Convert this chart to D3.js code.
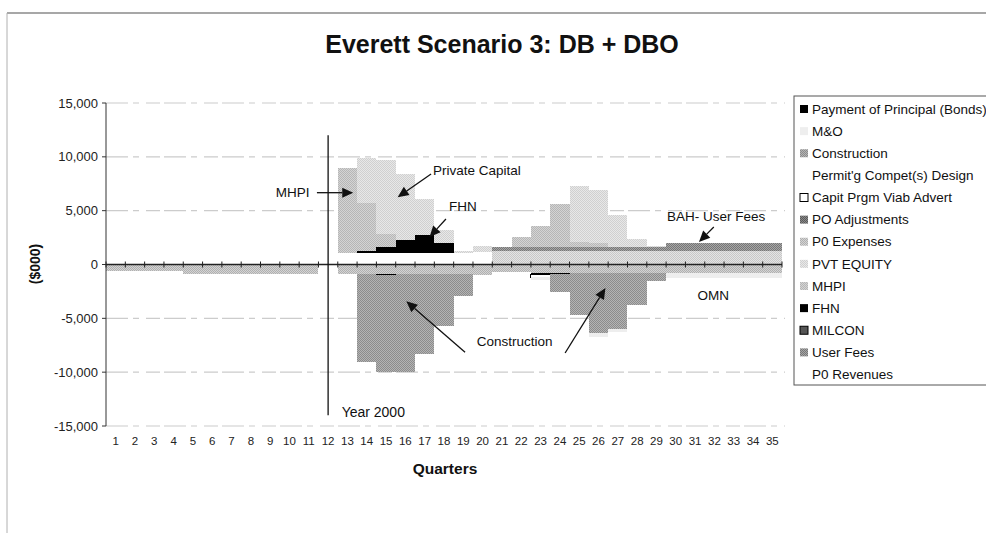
<!DOCTYPE html>
<html>
<head>
<meta charset="utf-8">
<script src="https://cdn.jsdelivr.net/npm/d3@7"></script>
<style>
  html, body { margin: 0; padding: 0; background: #fff; overflow: hidden; }
  svg { display: block; font-family: "Liberation Sans", Arial, Helvetica, sans-serif; }
</style>
</head>
<body>
<svg id="chart" width="986" height="533"></svg>
<script>
// Quarters on the category axis
const quarters = [1,2,3,4,5,6,7,8,9,10,11,12,13,14,15,16,17,18,19,20,21,22,23,24,25,26,27,28,29,30,31,32,33,34,35];

// Value axis ticks ($000)
const yTicks = [15000, 10000, 5000, 0, -5000, -10000, -15000];
const yTickLabels = ["15,000", "10,000", "5,000", "0", "-5,000", "-10,000", "-15,000"];

// Cash-flow series by quarter ($000)
const permitDesign  = [0,0,0,0,0,0,0,0,0,0,0,0,1080,1080,1080,1080,1080,1080,1080,1150,0,0,0,0,0,0,0,0,0,0,0,0,0,0,0];
const p0Revenues    = [0,0,0,0,0,0,0,0,0,0,0,0,0,0,0,0,0,0,0,0,1230,1230,1230,1230,1230,1230,1230,1230,1230,1230,1230,1230,1230,1230,1230];
const userFees      = [0,0,0,0,0,0,0,0,0,0,0,0,0,0,0,0,0,0,0,0,430,430,430,430,430,430,430,430,430,770,770,770,770,770,770];
const milcon        = [0,0,0,0,0,0,0,0,0,0,0,0,0,0,0,0,0,0,0,0,0,0,0,0,0,0,0,0,0,0,0,0,0,0,0];
const fhn           = [0,0,0,0,0,0,0,0,0,0,0,0,0,150,520,1210,1670,960,0,0,0,0,0,0,0,0,0,0,0,0,0,0,0,0,0];
const mhpi          = [0,0,0,0,0,0,0,0,0,0,0,0,7870,4500,1240,0,0,0,0,0,0,870,1950,3960,400,300,0,0,0,0,0,0,0,0,0];
const pvtEquity     = [0,0,0,0,0,0,0,0,0,0,0,0,0,4170,6910,6150,3350,1150,220,550,0,0,0,0,5240,5000,2940,740,100,0,0,0,0,0,0];
const p0Expenses    = [-650,-650,-650,-650,-900,-900,-900,-900,-900,-900,-900,0,-900,-850,-850,-850,-850,-850,-850,-1000,-700,-700,-800,-800,-800,-800,-800,-800,-800,-800,-800,-800,-800,-800,-800];
const poAdjustments = [0,0,0,0,0,0,0,0,0,0,0,0,0,0,0,0,0,0,0,0,0,0,0,0,0,0,0,0,0,0,0,0,0,0,0];
const principal     = [0,0,0,0,0,0,0,0,0,0,0,0,0,0,-130,0,0,0,0,0,0,0,-100,-120,0,0,0,0,0,0,0,0,0,0,0];
const capitPrgm     = [0,0,0,0,0,0,0,0,0,0,0,0,0,0,0,0,0,0,0,0,0,0,-300,0,0,0,0,0,0,0,0,0,0,0,0];
const construction  = [0,0,0,0,0,0,0,0,0,0,0,0,0,-8200,-8990,-9120,-7420,-4890,-2110,0,0,0,0,-1650,-3880,-5560,-5200,-2930,-770,0,0,0,0,0,0];
const mAndO         = [0,0,0,0,0,0,0,0,0,0,0,0,0,0,0,0,0,0,0,0,0,0,-200,0,0,-400,-300,0,0,-500,-500,-500,-500,-500,-500];

const svg = d3.select("#chart");
const defs = svg.append("defs");

// Halftone-style fills: 2x2 checker of two greys
function halftone(id, a, b) {
  const p = defs.append("pattern").attr("id", id).attr("width", 2).attr("height", 2)
    .attr("patternUnits", "userSpaceOnUse");
  p.append("rect").attr("width", 2).attr("height", 2).attr("fill", a);
  p.append("rect").attr("width", 1).attr("height", 1).attr("fill", b);
  p.append("rect").attr("x", 1).attr("y", 1).attr("width", 1).attr("height", 1).attr("fill", b);
  return `url(#${id})`;
}

const fills = {
  construction: halftone("ht-constr", "#b4b4b4", "#8c8c8c"),
  p0Expenses:   halftone("ht-p0exp", "#d4d4d4", "#b0b0b0"),
  userFees:     halftone("ht-fees", "#a6a6a6", "#777777"),
  mhpi:         halftone("ht-mhpi", "#d4d4d4", "#b6b6b6"),
  pvtEquity:    halftone("ht-pvt", "#e8e8e8", "#d0d0d0"),
  p0Revenues:   halftone("ht-p0rev", "#e4e4e4", "#c8c8c8"),
  poAdjustments:halftone("ht-poadj", "#8a8a8a", "#5a5a5a")
};

// Series definitions (stacking order, bottom of stack first)
const seriesDefs = [
  { key: "permitDesign",  label: "Permit'g Compet(s) Design", values: permitDesign,  fill: "#ffffff", stroke: "none", swatch: false },
  { key: "p0Revenues",    label: "P0 Revenues",               values: p0Revenues,    fill: fills.p0Revenues, stroke: "none", swatch: false },
  { key: "userFees",      label: "User Fees",                 values: userFees,      fill: fills.userFees, stroke: "none", swatch: true },
  { key: "milcon",        label: "MILCON",                    values: milcon,        fill: "#555555", stroke: "#000", swatch: true },
  { key: "fhn",           label: "FHN",                       values: fhn,           fill: "#000000", stroke: "none", swatch: true },
  { key: "mhpi",          label: "MHPI",                      values: mhpi,          fill: fills.mhpi, stroke: "none", swatch: true },
  { key: "pvtEquity",     label: "PVT EQUITY",                values: pvtEquity,     fill: fills.pvtEquity, stroke: "none", swatch: true },
  { key: "p0Expenses",    label: "P0 Expenses",               values: p0Expenses,    fill: fills.p0Expenses, stroke: "none", swatch: true },
  { key: "poAdjustments", label: "PO Adjustments",            values: poAdjustments, fill: fills.poAdjustments, stroke: "none", swatch: true },
  { key: "principal",     label: "Payment of Principal (Bonds)", values: principal,  fill: "#000000", stroke: "none", swatch: true },
  { key: "capitPrgm",     label: "Capit Prgm Viab Advert",    values: capitPrgm,     fill: "#ffffff", stroke: "#000", swatch: true },
  { key: "construction",  label: "Construction",              values: construction,  fill: fills.construction, stroke: "none", swatch: true },
  { key: "mAndO",         label: "M&O",                       values: mAndO,         fill: "#eeeeee", stroke: "none", swatch: true }
];
const byKey = Object.fromEntries(seriesDefs.map(s => [s.key, s]));

// Legend order, top to bottom
const legendOrder = ["principal", "mAndO", "construction", "permitDesign", "capitPrgm", "poAdjustments",
  "p0Expenses", "pvtEquity", "mhpi", "fhn", "milcon", "userFees", "p0Revenues"];

// Scales
const plot = { left: 106, right: 782, top: 103, bottom: 426 };
const x = d3.scaleBand().domain(quarters).range([plot.left, plot.right]).padding(0);
const xq = d3.scaleLinear().domain([0.5, 35.5]).range([plot.left, plot.right]);
const y = d3.scaleLinear().domain([-15000, 15000]).range([plot.bottom, plot.top]);

// Outer chart frame
svg.append("line").attr("x1", 7).attr("x2", 986).attr("y1", 13).attr("y2", 13)
  .attr("stroke", "#8a8a8a").attr("stroke-width", 1.5);
svg.append("line").attr("x1", 7).attr("x2", 7).attr("y1", 13).attr("y2", 533)
  .attr("stroke", "#b0b0b0").attr("stroke-width", 1);

// Title
svg.append("text").attr("x", 502).attr("y", 53).attr("text-anchor", "middle")
  .attr("font-size", 25).attr("font-weight", "bold").attr("fill", "#111")
  .text("Everett Scenario 3: DB + DBO");

// Gridlines
svg.append("g").selectAll("line").data(yTicks.filter(v => v !== 0)).join("line")
  .attr("x1", plot.left).attr("x2", plot.right + 3)
  .attr("y1", d => y(d)).attr("y2", d => y(d))
  .attr("stroke", "#cccccc").attr("stroke-width", 1.2)
  .attr("stroke-dasharray", "22 5 6 7 14 4");

// Stacked bars
const rows = quarters.map((q, i) => {
  const r = { q };
  seriesDefs.forEach(s => { r[s.key] = s.values[i]; });
  return r;
});
const stacked = d3.stack().keys(seriesDefs.map(s => s.key)).offset(d3.stackOffsetDiverging)(rows);

const barG = svg.append("g").attr("shape-rendering", "crispEdges");
stacked.forEach(layer => {
  const def = byKey[layer.key];
  barG.append("g").selectAll("rect")
    .data(layer.filter(d => d[1] !== d[0]))
    .join("rect")
    .attr("x", d => x(d.data.q))
    .attr("width", x.bandwidth())
    .attr("y", d => y(Math.max(d[0], d[1])))
    .attr("height", d => Math.abs(y(d[0]) - y(d[1])))
    .attr("fill", def.fill)
    .attr("stroke", def.stroke)
    .attr("stroke-width", def.stroke === "none" ? 0 : 1);
});

// Value axis
const yAxis = svg.append("g").attr("transform", `translate(${plot.left},0)`);
yAxis.append("line").attr("y1", plot.top).attr("y2", plot.bottom).attr("stroke", "#333");
yAxis.selectAll("line.tick").data(yTicks).join("line").attr("class", "tick")
  .attr("x1", -4).attr("x2", 0).attr("y1", d => y(d)).attr("y2", d => y(d)).attr("stroke", "#333");
yAxis.selectAll("text").data(yTicks).join("text")
  .attr("x", -8).attr("y", d => y(d)).attr("dy", "0.35em").attr("text-anchor", "end")
  .attr("font-size", 13).attr("fill", "#222")
  .text((d, i) => yTickLabels[i]);

// Category axis along zero, with cross ticks at category boundaries
const y0 = y(0);
const xAxis = svg.append("g");
xAxis.append("line").attr("x1", plot.left).attr("x2", plot.right).attr("y1", y0).attr("y2", y0)
  .attr("stroke", "#222").attr("stroke-width", 1.6);
xAxis.selectAll("line.tick").data(quarters.map(q => x(q)).concat([plot.right])).join("line")
  .attr("class", "tick").attr("x1", d => d).attr("x2", d => d)
  .attr("y1", y0 - 3).attr("y2", y0 + 3).attr("stroke", "#222");
xAxis.selectAll("text").data(quarters).join("text")
  .attr("x", d => x(d) + x.bandwidth() / 2).attr("y", 441).attr("dy", "0.35em")
  .attr("text-anchor", "middle").attr("font-size", 11.5).attr("fill", "#222")
  .text(d => d);

// Axis titles
svg.append("text").attr("x", 445).attr("y", 469).attr("dy", "0.35em").attr("text-anchor", "middle")
  .attr("font-size", 15.5).attr("font-weight", "bold").attr("fill", "#111").text("Quarters");
svg.append("text").attr("transform", `translate(35,264) rotate(-90)`).attr("dy", "0.35em")
  .attr("text-anchor", "middle").attr("font-size", 14).attr("font-weight", "bold").attr("fill", "#111")
  .text("($000)");

// Year 2000 marker at quarter 12
const xYear = x(12) + x.bandwidth() / 2;
svg.append("line").attr("x1", xYear).attr("x2", xYear).attr("y1", y(12000)).attr("y2", y(-14000))
  .attr("stroke", "#111").attr("stroke-width", 1.3);
svg.append("text").attr("x", xq(12.7)).attr("y", y(-13700)).attr("dy", "0.35em")
  .attr("font-size", 14).attr("fill", "#111").text("Year 2000");

// Annotations: labels and arrows, placed in quarter / value units
const ann = svg.append("g").attr("fill", "#111").attr("font-size", 13.5);
function label(q, v, text) {
  ann.append("text").attr("x", xq(q)).attr("y", y(v)).attr("dy", "0.35em").text(text);
}
function arrow(q1, v1, q2, v2) {
  const xa = xq(q1), ya = y(v1), xb = xq(q2), yb = y(v2);
  const ang = Math.atan2(yb - ya, xb - xa);
  const len = 11, half = 5;
  const bx = xb - len * Math.cos(ang), by = yb - len * Math.sin(ang);
  ann.append("line").attr("x1", xa).attr("y1", ya).attr("x2", bx).attr("y2", by)
    .attr("stroke", "#111").attr("stroke-width", 1.3);
  const px = -Math.sin(ang) * half, py = Math.cos(ang) * half;
  ann.append("path")
    .attr("d", `M${xb},${yb}L${bx + px},${by + py}L${bx - px},${by - py}Z`)
    .attr("fill", "#111");
}

label(9.29, 6670, "MHPI");
arrow(11.42, 6670, 13.3, 6670);
label(17.43, 8770, "Private Capital");
arrow(17.33, 8400, 15.6, 6250);
label(18.26, 5370, "FHN");
arrow(18.1, 4225, 17.25, 2550);
label(29.55, 4500, "BAH- User Fees");
arrow(31.97, 3480, 31.2, 2100);
label(31.13, -2830, "OMN");
label(19.69, -7100, "Construction");
arrow(19.09, -8150, 16.05, -3420);
arrow(24.27, -8220, 26.36, -2180);

// Legend
const lg = svg.append("g");
lg.append("rect").attr("x", 794).attr("y", 96).attr("width", 220).attr("height", 289)
  .attr("fill", "#fff").attr("stroke", "#555");
const rowY = d3.scaleLinear().domain([0, 12]).range([109, 374.5]);
legendOrder.forEach((k, i) => {
  const s = byKey[k];
  const cy = rowY(i);
  if (s.swatch) {
    lg.append("rect").attr("x", 800).attr("y", cy - 4).attr("width", 8).attr("height", 8)
      .attr("fill", s.fill)
      .attr("stroke", s.stroke === "none" ? "none" : s.stroke).attr("stroke-width", 1);
  }
  lg.append("text").attr("x", 812).attr("y", cy).attr("dy", "0.35em")
    .attr("font-size", 13.5).attr("fill", "#111").text(s.label);
});
</script>
</body>
</html>
